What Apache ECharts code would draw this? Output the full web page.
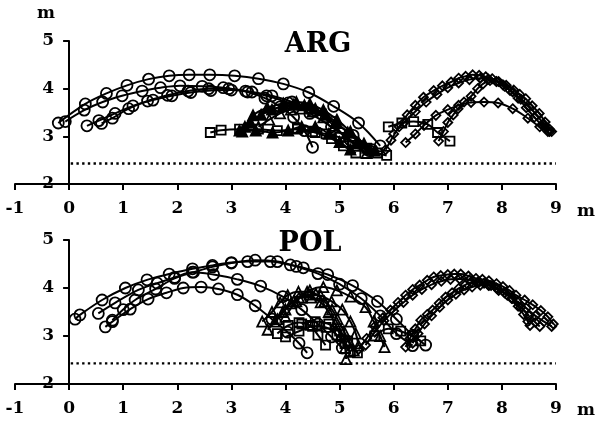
<!DOCTYPE html>
<html><head><meta charset="utf-8">
<script src="https://cdn.jsdelivr.net/npm/echarts@6/dist/echarts.min.js"></script>
<style>html,body{margin:0;padding:0;background:#fff}#c{width:598px;height:426px}</style>
</head><body><div id="c"></div>
<script>
// ---------- axis ticks ----------
const xTicks = [-1,0,1,2,3,4,5,6,7,8,9];
const yTicks = [2,3,4,5];
const netLine = 2.43;

// ---------- ARG (top) ----------
const argC1 = [[-0.2,3.28],[0.3,3.68],[0.69,3.9],[1.07,4.07],[1.47,4.2],[1.85,4.27],[2.22,4.29],[2.6,4.29],[3.06,4.27],[3.5,4.21],[3.96,4.1],[4.43,3.92],[4.89,3.63],[5.35,3.28],[5.75,2.8]];
const argC2 = [[-0.07,3.31],[0.28,3.55],[0.62,3.72],[0.98,3.85],[1.35,3.95],[1.69,4.02],[2.05,4.06],[2.46,4.05],[2.85,4.02],[3.26,3.95],[3.65,3.85],[4.05,3.7],[4.45,3.48],[4.85,3.2],[5.2,2.92],[5.55,2.7]];
const argC3 = [[0.33,3.22],[0.55,3.33],[0.85,3.48],[1.18,3.64],[1.55,3.76],[1.9,3.85],[2.25,3.92],[2.62,3.96],[3.0,3.97],[3.38,3.93],[3.75,3.85],[4.12,3.72],[4.5,3.53],[4.88,3.3],[5.25,3.02],[5.6,2.72]];
const argC4 = [[0.6,3.27],[0.8,3.38],[1.1,3.58],[1.45,3.74],[1.82,3.86],[2.2,3.95],[2.58,4.0],[2.95,4.0],[3.3,3.93],[3.62,3.8],[3.9,3.62],[4.15,3.4],[4.35,3.12],[4.5,2.77]];
const argT1 = [[3.15,3.12],[3.35,3.3],[3.55,3.45],[3.75,3.56],[3.95,3.63],[4.15,3.66],[4.35,3.65],[4.55,3.58],[4.75,3.45],[4.95,3.28],[5.15,3.08],[5.35,2.88],[5.55,2.72]];
const argT2 = [[3.25,3.2],[3.4,3.44],[3.66,3.6],[3.96,3.69],[4.2,3.72],[4.45,3.68],[4.7,3.55],[4.95,3.35],[5.2,3.1],[5.45,2.85],[5.65,2.7]];
const argT3 = [[3.2,3.1],[3.45,3.12],[3.76,3.08],[4.05,3.12],[4.3,3.2],[4.55,3.2],[4.8,3.05],[5.0,2.88],[5.2,2.72]];
const argT4 = [[3.5,3.2],[3.7,3.35],[3.9,3.48],[4.1,3.56],[4.3,3.58],[4.5,3.52],[4.7,3.4],[4.9,3.22],[5.1,3.0],[5.3,2.8],[5.5,2.65]];
const argS1 = [[2.61,3.08],[2.81,3.13],[3.15,3.15],[3.5,3.15],[3.85,3.12],[4.22,3.15],[4.55,3.08],[4.85,2.95],[5.07,2.8],[5.3,2.65]];
const argS2 = [[4.22,3.17],[4.5,3.1],[4.75,3.05],[5.0,2.98],[5.25,2.88],[5.5,2.75],[5.7,2.65],[5.87,2.6]];
const argS3 = [[5.9,3.2],[6.15,3.28],[6.37,3.31],[6.63,3.25],[6.81,3.08],[7.04,2.9]];
const argD1 = [[5.85,2.72],[5.95,2.92],[6.1,3.2],[6.25,3.45],[6.4,3.65],[6.55,3.82],[6.74,3.96],[6.9,4.06],[7.06,4.14],[7.2,4.22],[7.33,4.26],[7.46,4.29],[7.58,4.28],[7.7,4.25],[7.82,4.21],[7.94,4.15],[8.08,4.07],[8.22,3.97],[8.33,3.88],[8.44,3.79],[8.56,3.64],[8.69,3.48],[8.8,3.3],[8.88,3.15]];
const argD2 = [[6.0,3.05],[6.2,3.3],[6.4,3.52],[6.6,3.72],[6.8,3.88],[7.0,4.02],[7.2,4.12],[7.4,4.19],[7.6,4.22],[7.75,4.2],[7.9,4.15],[8.05,4.05],[8.2,3.93],[8.35,3.78],[8.5,3.62],[8.65,3.44],[8.78,3.25],[8.92,3.1]];
const argD3 = [[6.83,2.9],[6.92,3.1],[7.0,3.29],[7.1,3.45],[7.19,3.58],[7.3,3.72],[7.43,3.84],[7.55,4.0],[7.65,4.1],[7.78,4.17],[7.9,4.15],[8.02,4.08],[8.15,3.96],[8.3,3.8],[8.45,3.6],[8.6,3.4],[8.75,3.22],[8.88,3.1]];
const argD4 = [[6.22,2.87],[6.4,3.05],[6.56,3.23],[6.78,3.44],[7.0,3.56],[7.2,3.65],[7.43,3.71],[7.67,3.72],[7.93,3.7],[8.2,3.58],[8.48,3.38],[8.7,3.2],[8.85,3.1]];

// ---------- POL (bottom) ----------
const polC1 = [[0.11,3.35],[0.2,3.44],[0.61,3.75],[1.04,4.0],[1.44,4.17],[1.85,4.29],[2.28,4.4],[2.65,4.47],[3.0,4.53],[3.3,4.55],[3.72,4.55],[4.09,4.48],[4.33,4.42],[4.78,4.28],[5.24,4.05],[5.7,3.72],[6.05,3.35],[6.35,3.02],[6.59,2.81]];
const polC2 = [[0.54,3.47],[0.85,3.69],[1.28,3.96],[1.63,4.1],[1.95,4.22],[2.28,4.33],[2.67,4.28],[3.11,4.18],[3.54,4.04],[3.95,3.82],[4.3,3.55],[4.6,3.25],[4.85,2.98],[5.05,2.75]];
const polC3 = [[0.67,3.19],[0.8,3.3],[1.13,3.56],[1.46,3.77],[1.8,3.9],[2.11,4.0],[2.44,4.02],[2.76,3.98],[3.11,3.86],[3.44,3.63],[3.75,3.35],[4.04,3.08],[4.25,2.85],[4.4,2.65]];
const polC4 = [[0.8,3.33],[1.0,3.55],[1.22,3.75],[1.6,3.98],[1.95,4.2],[2.3,4.33],[2.65,4.44],[3.0,4.52],[3.44,4.58],[3.85,4.55],[4.2,4.45],[4.6,4.3],[5.0,4.08],[5.4,3.78],[5.75,3.42],[6.05,3.05],[6.35,2.8]];
const polT1 = [[3.57,3.3],[3.75,3.5],[3.9,3.7],[4.04,3.85],[4.24,3.92],[4.4,3.92],[4.56,3.88],[4.72,3.72],[4.86,3.55],[4.96,3.35],[5.08,3.1],[5.18,2.88],[5.26,2.7]];
const polT2 = [[3.67,3.13],[3.85,3.35],[4.0,3.55],[4.15,3.72],[4.3,3.8],[4.48,3.8],[4.65,3.7],[4.8,3.5],[4.92,3.25],[5.02,3.0],[5.1,2.75],[5.12,2.52]];
const polT3 = [[3.8,3.3],[3.95,3.5],[4.1,3.68],[4.25,3.8],[4.45,3.86],[4.65,3.84],[4.85,3.72],[5.05,3.55],[5.2,3.3],[5.3,3.05],[5.35,2.8]];
const polT4 = [[4.0,3.4],[4.2,3.72],[4.45,3.95],[4.7,4.02],[4.95,3.95],[5.2,3.82],[5.48,3.6],[5.63,3.3],[5.75,3.0],[5.83,2.77]];
const polS1 = [[3.85,3.05],[4.05,3.22],[4.25,3.28],[4.45,3.22],[4.6,3.02],[4.74,2.81]];
const polS2 = [[4.0,2.98],[4.25,3.1],[4.5,3.2],[4.75,3.18],[4.95,3.02],[5.1,2.84],[5.2,2.66]];
const polS3 = [[4.3,3.25],[4.55,3.3],[4.8,3.25],[5.0,3.1],[5.15,2.9],[5.33,2.65]];
const polS4 = [[5.65,3.0],[5.9,3.15],[6.13,3.1],[6.35,3.0],[6.5,2.9]];
const polD1 = [[5.35,2.72],[5.5,2.95],[5.65,3.2],[5.8,3.38],[5.94,3.54],[6.08,3.7],[6.22,3.85],[6.35,3.97],[6.48,4.06],[6.62,4.16],[6.74,4.23],[6.87,4.26],[7.0,4.28],[7.12,4.29],[7.24,4.29],[7.38,4.25],[7.52,4.2],[7.64,4.18],[7.76,4.15],[7.9,4.09],[8.02,4.03],[8.14,3.95],[8.26,3.85],[8.42,3.75],[8.57,3.65],[8.72,3.53],[8.85,3.4],[8.95,3.25]];
const polD2 = [[5.48,2.81],[5.65,3.08],[5.82,3.32],[6.0,3.52],[6.18,3.7],[6.35,3.85],[6.52,3.97],[6.7,4.07],[6.88,4.14],[7.05,4.18],[7.22,4.19],[7.4,4.17],[7.58,4.12],[7.76,4.05],[7.94,3.95],[8.1,3.85],[8.28,3.72],[8.45,3.58],[8.62,3.42],[8.78,3.3],[8.92,3.2]];
const polD3 = [[6.22,2.77],[6.3,2.95],[6.4,3.15],[6.5,3.33],[6.62,3.45],[6.72,3.54],[6.84,3.68],[6.96,3.81],[7.08,3.9],[7.2,3.99],[7.32,4.06],[7.43,4.12],[7.55,4.12],[7.67,4.1],[7.8,4.05],[7.92,3.98],[8.05,3.9],[8.18,3.78],[8.3,3.62],[8.4,3.45],[8.48,3.3],[8.52,3.22]];
const polD4 = [[6.35,2.85],[6.45,3.05],[6.57,3.25],[6.7,3.42],[6.85,3.6],[7.0,3.75],[7.15,3.87],[7.3,3.96],[7.45,4.02],[7.6,4.06],[7.75,4.06],[7.9,4.0],[8.05,3.9],[8.2,3.78],[8.35,3.6],[8.5,3.42],[8.62,3.28],[8.7,3.2]];

const FONT = '"DejaVu Serif", "Liberation Serif", serif';
const chart = echarts.init(document.getElementById('c'), null, {renderer:'canvas'});

function mk(data, g, symbol, size, fill) {
  return {type:'line', data, xAxisIndex:g, yAxisIndex:g, smooth:0.35, symbol, symbolSize:size,
    showAllSymbol:true, silent:true, animation:false,
    lineStyle:{color:'#000', width:2},
    itemStyle:{color: fill || 'rgba(255,255,255,0)', borderColor:'#000', borderWidth:1.8}};
}
function net(g) {
  return {type:'line', data:[[0.03,netLine],[9,netLine]], xAxisIndex:g, yAxisIndex:g, symbol:'none',
    silent:true, animation:false, lineStyle:{color:'#000', width:2.4, type:[2.4,3.3]}};
}
function xa(g) {
  return {type:'value', gridIndex:g, min:xTicks[0], max:xTicks[xTicks.length-1], interval:1,
    axisLine:{onZero:false, lineStyle:{color:'#000', width:2}},
    axisTick:{length:6, lineStyle:{color:'#000', width:2}},
    axisLabel:{color:'#000', fontFamily:FONT, fontSize:17, fontWeight:'bold', margin:16},
    splitLine:{show:false}};
}
function ya(g) {
  // axis drawn at x = 0 (one x-unit to the right of the grid's left edge)
  return {type:'value', gridIndex:g, min:yTicks[0], max:yTicks[yTicks.length-1], interval:1,
    offset:-54.1,
    axisLine:{onZero:false, lineStyle:{color:'#000', width:2}},
    axisTick:{length:6, lineStyle:{color:'#000', width:2}},
    axisLabel:{color:'#000', fontFamily:FONT, fontSize:17, fontWeight:'bold', margin:15},
    splitLine:{show:false}};
}
const series = [
  net(0),
  mk(argC1,0,'circle',11), mk(argC2,0,'circle',11), mk(argC3,0,'circle',11), mk(argC4,0,'circle',11),
  mk(argS1,0,'rect',9), mk(argS2,0,'rect',9), mk(argS3,0,'rect',9),
  mk(argT1,0,'triangle',10,'#000'), mk(argT2,0,'triangle',10,'#000'), mk(argT3,0,'triangle',10,'#000'), mk(argT4,0,'triangle',10),
  mk(argD1,0,'diamond',9), mk(argD2,0,'diamond',9), mk(argD3,0,'diamond',9), mk(argD4,0,'diamond',9),
  net(1),
  mk(polC1,1,'circle',11), mk(polC2,1,'circle',11), mk(polC3,1,'circle',11), mk(polC4,1,'circle',11),
  mk(polS1,1,'rect',9), mk(polS2,1,'rect',9), mk(polS3,1,'rect',9), mk(polS4,1,'rect',9),
  mk(polT1,1,'triangle',10), mk(polT2,1,'triangle',10), mk(polT3,1,'triangle',10), mk(polT4,1,'triangle',10),
  mk(polD1,1,'diamond',9), mk(polD2,1,'diamond',9), mk(polD3,1,'diamond',9), mk(polD4,1,'diamond',9)
];
function txt(t, x, y, size, w) {
  return {type:'text', x, y, silent:true,
    style:{text:t, fill:'#000', font:(w||'normal')+' '+size+'px '+FONT, align:'center', verticalAlign:'middle', textAlign:'center', textVerticalAlign:'middle'}};
}
chart.setOption({
  animation:false,
  backgroundColor:'#fff',
  grid:[{left:15, top:41, width:541, height:143}, {left:15, top:240, width:541, height:144}],
  xAxis:[xa(0), xa(1)],
  yAxis:[ya(0), ya(1)],
  series,
  graphic:[
    txt('ARG', 318, 45, 27, 'bold'), txt('POL', 310, 244, 27, 'bold'),
    txt('m', 46, 14, 17, 'bold'), txt('m', 586, 212, 17, 'bold'), txt('m', 586, 411, 17, 'bold')
  ]
});
</script></body></html>
